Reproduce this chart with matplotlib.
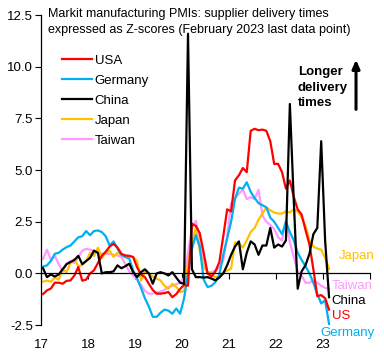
import matplotlib
matplotlib.use("Agg")
import matplotlib.pyplot as plt
import matplotlib.transforms as mtransforms
import numpy as np

plt.rcParams['font.family'] = ['Liberation Sans', 'DejaVu Sans']

# monthly z-scores, Jan 2017 .. Feb 2023
usa = [-1.0, -0.82, -0.73, -0.45, -0.45, -0.5, -0.36, -0.34, -0.1, 0.31, -0.35, -0.3,
       0.0, 0.15, 0.5, 0.85, 1.05, 1.3, 1.43, 1.25, 0.95, 0.87, 0.85, 0.79,
       0.3, -0.05, -0.18, -0.5, -0.8, -0.98, -0.98, -0.95, -0.9, -1.15, -1.0, -0.75,
       -0.55, -0.6, 2.4, 2.3, 1.95, 1.0, 0.0, -0.15, 0.1, 0.55, 1.8, 3.1,
       3.0, 4.5, 4.75, 5.1, 4.9, 6.9, 7.0, 6.93, 6.96, 6.9, 6.4, 5.3,
       5.3, 4.9, 4.1, 4.5, 3.7, 3.1, 2.85, 2.1, 1.4, 0.2, -1.1, -1.05,
       -1.2, -1.75]
germany = [0.33, 0.39, 0.6, 0.95, 1.0, 1.15, 1.27, 1.35, 1.55, 1.75, 1.8, 2.05,
           1.85, 2.05, 2.08, 2.0, 1.8, 1.35, 1.55, 1.2, 0.9, 0.79, 0.72, 0.14,
           -0.25, -0.7, -1.2, -1.6, -2.1, -2.1, -1.9, -1.75, -1.8, -1.95, -1.7, -1.95,
           -1.2, 0.0, 1.2, 1.85, 1.3, -0.3, -0.66, -0.6, -0.42, -0.05, 0.9, 1.7,
           2.5, 3.6, 4.15, 4.1, 4.41, 3.95, 3.65, 3.4, 3.3, 3.2, 2.7, 2.5,
           2.2, 1.9, 2.5, 2.0, 1.6, 1.0, 0.65, 0.35, 0.0, -0.45, -1.0, -1.45,
           -1.3, -2.45]
china = [0.25, -0.18, -0.05, -0.15, -0.05, 0.2, 0.45, 0.55, 0.65, 0.85, 0.45, 0.6,
         0.75, 1.1, 1.0, 0.0, 0.06, 0.06, 0.1, 0.39, 0.25, 0.35, 0.47, 0.06,
         -0.18, 0.06, 0.2, 0.0, -0.5, 0.0, 0.06, 0.0, -0.1, 0.06, -0.2, -0.45,
         -0.5, 11.6, 0.2, -0.18, -0.18, -0.2, -0.18, -0.25, -0.34, -0.2, 0.0, 0.4,
         0.9, 1.3, 1.55, 0.2, 1.0, 1.55, 1.4, 0.9, 1.35, 1.35, 2.2, 1.25,
         1.4, 1.3, 1.6, 8.2, 3.5, -0.74, 0.1, 0.4, 0.95, 1.9, 2.2, 6.4,
         1.6, -1.15]
japan = [-0.4, -0.35, -0.4, -0.2, -0.3, 0.2, 0.06, 0.5, 0.7, 0.35, 0.4, 0.6,
         1.0, 0.85, 1.25, 0.75, 1.0, 1.1, 0.8, 1.0, 0.9, 0.8, 0.85, 0.8,
         0.6, -0.35, 0.1, 0.0, -0.15, -0.25, -0.34, -0.6, -0.74, -0.5, -0.65, -0.9,
         -0.85, 0.5, 1.5, 2.2, 1.1, 0.3, 0.06, 0.0, -0.2, -0.15, 0.05, 0.14,
         0.23, 1.5, 1.45, 1.25, 1.6, 2.0, 2.2, 2.6, 2.9, 3.2, 3.05, 2.95,
         2.9, 2.9, 3.0, 2.95, 3.1, 3.0, 2.7, 2.3, 1.6, 1.3, 1.2, 1.15,
         0.75, 0.23]
taiwan = [0.7, 1.15, 0.65, 0.85, 0.45, 0.1, 0.47, 0.6, 0.5, 0.8, 1.1, 1.19,
          1.15, 1.1, 1.0, 0.95, 0.95, 0.95, 0.9, 0.87, 0.8, 0.45, 0.1, -0.1,
          -0.3, -0.55, -0.85, -0.98, -0.98, -0.92, -0.88, -0.8, -0.66, -0.6, -0.52, -0.45,
          -0.2, 1.0, 2.2, 2.55, 1.7, 0.6, 0.05, 0.05, 0.15, 0.3, 0.63, 1.8,
          3.4, 3.65, 3.85, 4.05, 3.6, 3.69, 3.6, 4.05, 2.8, 2.5, 2.35, 2.15,
          1.75, 1.59, 2.6, 1.5, 0.8, 0.1, -0.1, -0.45, -0.45, -0.35, -0.45, -0.6,
          -0.7, -0.74]

years = [2017, 2018, 2019, 2020, 2021, 2022, 2023]
year_labels = ['17', '18', '19', '20', '21', '22', '23']
yticks = [-2.5, 0.0, 2.5, 5.0, 7.5, 10.0, 12.5]

t = 2017 + (np.arange(len(usa)) + 0.5) / 12

series = [("USA", usa, "#FF0000"), ("Germany", germany, "#00B0F0"),
          ("China", china, "#000000"), ("Japan", japan, "#FFC000"),
          ("Taiwan", taiwan, "#FF99FF")]

fig = plt.figure(figsize=(3.84, 3.6), dpi=100)
ax = fig.add_axes([0.107, 0.097, 0.857, 0.861])

# Taiwan at the back, China on top
for name, vals, col in [series[4], series[3], series[1], series[0], series[2]]:
    ax.plot(t, vals, color=col, lw=1.6, label=name)

ax.set_xlim(2017, 2024)
ax.set_ylim(-2.5, 12.5)
ax.set_yticks(yticks)
ax.set_yticklabels([f"{v:.1f}" for v in yticks], fontsize=9.5)
ax.tick_params(axis='y', direction='out', length=4, width=0.8, pad=2)

for s in ['top', 'right']:
    ax.spines[s].set_visible(False)
ax.spines['bottom'].set_position(('data', 0))
ax.spines['bottom'].set_linewidth(0.9)
ax.spines['left'].set_linewidth(0.9)
ax.set_xticks(years + [2024])
ax.tick_params(axis='x', direction='out', length=4, width=0.8, labelbottom=False)

trans = mtransforms.blended_transform_factory(ax.transData, ax.transAxes)
for yr, lab in zip(years, year_labels):
    ax.text(yr, -0.045, lab, transform=trans, ha='center', va='top', fontsize=9.5)

ax.text(0.022, 1.022, "Markit manufacturing PMIs: supplier delivery times\n"
        "expressed as Z-scores (February 2023 last data point)",
        transform=ax.transAxes, ha='left', va='top', fontsize=9.0, linespacing=1.4)

handles, labels = ax.get_legend_handles_labels()
order = ["USA", "Germany", "China", "Japan", "Taiwan"]
hmap = dict(zip(labels, handles))
ax.legend([hmap[n] for n in order], order, loc='upper left',
          bbox_to_anchor=(0.065, 0.872), frameon=False, fontsize=9.5,
          handlelength=2.2, handletextpad=0.25, labelspacing=0.58, borderaxespad=0,
          borderpad=0)

ax.text(0.78, 0.835, "Longer\ndelivery\ntimes", transform=ax.transAxes,
        ha='left', va='top', fontsize=9.5, fontweight='bold', linespacing=1.4)
ax.annotate("", xy=(0.957, 0.865), xytext=(0.957, 0.687), xycoords='axes fraction',
            arrowprops=dict(arrowstyle='-|>,head_length=0.5,head_width=0.22',
                            color='black', lw=2.2))

end_labels = [("Japan", 0.85, "#FFC000", 0), ("Taiwan", -0.6, "#FF99FF", -5),
              ("China", -1.35, "#000000", -5), ("US", -2.05, "#FF0000", -5),
              ("Germany", -2.9, "#00B0F0", -13)]
for name, y, col, dx in end_labels:
    ax.annotate(name, xy=(t[-1], y), xytext=(7 + dx, 0), textcoords='offset points',
                ha='left', va='center', color=col, fontsize=9.5, annotation_clip=False)

fig.savefig("out.png", dpi=100)
